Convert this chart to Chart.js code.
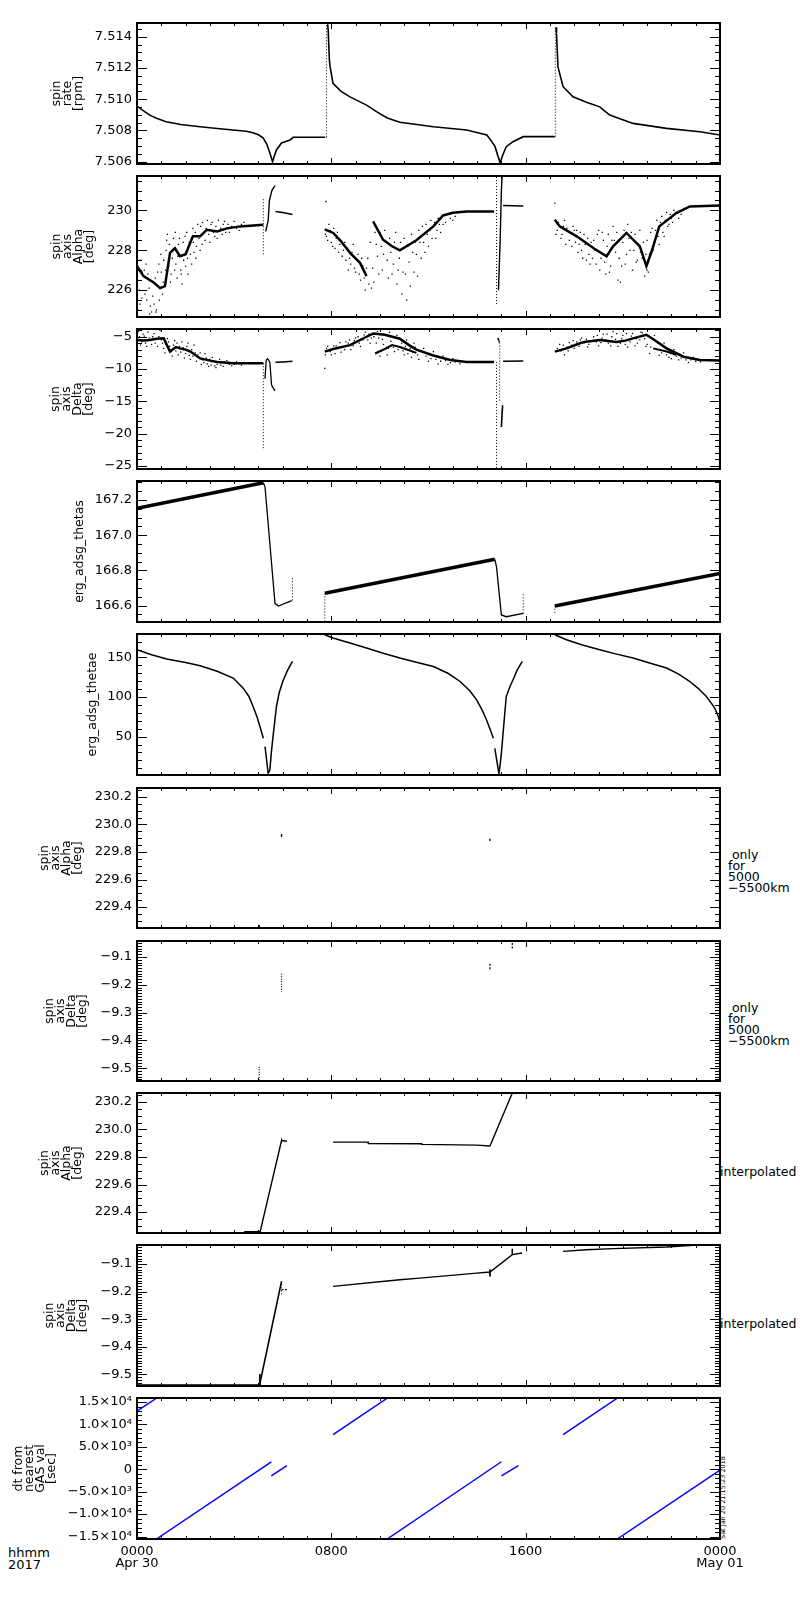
<!DOCTYPE html>
<html>
<head>
<meta charset="utf-8">
<script src="https://cdn.jsdelivr.net/npm/chart.js@4.4.1/dist/chart.umd.min.js"></script>
<style>
  body { margin: 0; background: #fff; width: 800px; height: 1600px; position: relative; font-family: 'DejaVu Sans', sans-serif; color: #000; }
  canvas { position: absolute; left: 0; }
  .note { position: absolute; font-size: 12.5px; line-height: 11px; white-space: pre; }
  .stamp { position: absolute; left: 720px; top: 1539px; font-size: 6.5px; line-height: 7px; white-space: nowrap; transform: rotate(-90deg); transform-origin: 0 0; }
</style>
</head>
<body>
<div class="note" style="left:728px; top:849px"> only
for
5000
−5500km</div>
<div class="note" style="left:728px; top:1002px"> only
for
5000
−5500km</div>
<div class="note" style="left:720px; top:1165px; line-height:14px">interpolated</div>
<div class="note" style="left:720px; top:1317px; line-height:14px">interpolated</div>
<div class="note" style="left:8px; top:1547px; font-size:13px; line-height:12px">hhmm
2017</div>
<div class="stamp">Sat Jan 20 21:15:23 2018</div>
<script>
// time axis (hours from 0000 Apr 30)
const hourTicks = [0, 1, 2, 3, 4, 5, 6, 7, 8, 9, 10, 11, 12, 13, 14, 15, 16, 17, 18, 19, 20, 21, 22, 23, 24];
const xTickHours = [0, 8, 16, 24];
const xTickLabels = [['0000', 'Apr 30'], '0800', '1600', ['0000', 'May 01']];

// tick labels per panel
const rateTicks = [7.506, 7.508, 7.510, 7.512, 7.514];
const rateTickLabels = ['7.506', '7.508', '7.510', '7.512', '7.514'];
const alphaTicks = [226, 228, 230];
const alphaTickLabels = ['226', '228', '230'];
const deltaTicks = [-25, -20, -15, -10, -5];
const deltaTickLabels = ['−25', '−20', '−15', '−10', '−5'];
const thetasTicks = [166.6, 166.8, 167.0, 167.2];
const thetasTickLabels = ['166.6', '166.8', '167.0', '167.2'];
const thetaeTicks = [50, 100, 150];
const thetaeTickLabels = ['50', '100', '150'];
const alphaFineTicks = [229.4, 229.6, 229.8, 230.0, 230.2];
const alphaFineTickLabels = ['229.4', '229.6', '229.8', '230.0', '230.2'];
const deltaFineTicks = [-9.5, -9.4, -9.3, -9.2, -9.1];
const deltaFineTickLabels = ['−9.5', '−9.4', '−9.3', '−9.2', '−9.1'];
const dtTicks = [-15000, -10000, -5000, 0, 5000, 10000, 15000];
const dtTickLabels = ['−1.5×10⁴', '−1.0×10⁴', '−5.0×10³', '0', '5.0×10³', '1.0×10⁴', '1.5×10⁴'];

// spin rate [rpm]
const rateOrbit1 = [[0,7.50956],[0.27,7.50925],[0.53,7.50898],[0.8,7.50878],[1.2,7.50856],[1.8,7.50838],[2.6,7.50824],[3.3,7.50812],[3.95,7.50803],[4.5,7.50795],[4.77,7.50785],[5.0,7.50772],[5.2,7.50751],[5.35,7.5071],[5.47,7.50656],[5.58,7.506],[5.66,7.5064],[5.74,7.50675],[5.95,7.5072],[6.3,7.50739],[6.43,7.50756],[7.75,7.50756]];
const rateOrbit2 = [[7.85,7.5148],[7.87,7.51442],[7.92,7.5125],[7.95,7.51207],[8.07,7.51101],[8.4,7.5105],[8.77,7.51015],[9.45,7.50962],[9.86,7.5092],[10.3,7.5088],[10.82,7.50852],[12.2,7.50824],[13.57,7.50803],[14.4,7.50771],[14.6,7.5073],[14.74,7.50696],[14.85,7.5064],[14.95,7.50594],[15.05,7.5064],[15.2,7.50696],[15.48,7.50728],[15.9,7.5076],[17.2,7.5076]];
const rateOrbit3 = [[17.25,7.5146],[17.27,7.5142],[17.33,7.51207],[17.54,7.5108],[17.95,7.51015],[18.5,7.5098],[19.05,7.50951],[19.46,7.50898],[20.42,7.50845],[21.8,7.50813],[23.17,7.50792],[24,7.50771]];
const rateJump1 = [[7.8,7.50756],[7.8,7.5148]];
const rateJump2 = [[17.22,7.5076],[17.22,7.51463]];

// spin axis Alpha [deg]
const alphaBand1 = [[0,227.2],[0.27,226.7],[0.7,226.37],[0.95,226.1],[1.15,226.2],[1.36,227.87],[1.56,228.1],[1.77,227.7],[2.0,227.8],[2.3,228.7],[2.6,228.7],[2.87,229.03],[3.3,228.95],[3.7,229.1],[4.24,229.2],[5.2,229.28]];
const alphaSpike1Dots = [[5.2,227.8],[5.2,230.6]];
const alphaSpike1 = [[5.3,228.95],[5.4,229.5],[5.45,230.5],[5.55,231.0],[5.68,231.25]];
const alphaFlat1 = [[5.7,229.95],[6.0,229.9],[6.4,229.8]];
const alphaBand2a = [[7.73,229.05],[8.08,228.87],[8.4,228.45],[8.77,227.87],[9.18,227.37],[9.45,226.7]];
const alphaBand2b = [[9.72,229.45],[10.13,228.53],[10.5,228.2],[10.82,228.0],[11.5,228.5],[12.2,229.2],[12.6,229.75],[13.0,229.88],[13.57,229.95],[14.7,229.95]];
const alphaSpike2Dots = [[14.8,225.3],[14.8,231.7]];
const alphaSpike2 = [[14.88,226.0],[14.95,228.5],[15.0,231.0],[15.03,231.7]];
const alphaFlat2 = [[15.07,230.25],[15.9,230.22]];
const alphaBand3 = [[17.2,229.53],[17.4,229.2],[18.1,228.7],[18.8,228.1],[19.33,227.7],[19.6,228.2],[20.15,228.87],[20.7,228.2],[20.97,227.2],[21.2,228.0],[21.5,229.2],[22.2,229.87],[22.76,230.2],[24,230.25]];
const alphaStartDots = [[7.78,230.45],[17.2,230.37]];
const alphaCloud1 = [[0.05,225.0],[0.1,226.0],[0.15,227.5],[0.2,225.6],[0.3,227.0],[0.4,225.5],[0.45,226.8],[0.55,225.2],[0.6,224.9],[0.7,225.3],[0.8,225.0],[0.85,226.9],[0.9,227.3],[1.0,226.9],[1.05,225.8],[1.1,227.5],[1.2,228.0],[1.25,228.8],[1.3,227.2],[1.4,226.8],[1.5,228.6],[1.6,227.3],[1.65,226.6],[1.7,228.3],[1.8,227.0],[1.85,226.3],[1.9,228.4],[2.0,227.2],[2.05,228.9],[2.1,226.8],[2.2,227.8],[2.3,229.1],[2.35,227.9],[2.45,228.2],[2.5,229.3],[2.6,228.0],[2.7,229.4],[2.8,228.5],[2.9,229.5],[3.0,228.4],[3.1,229.4],[3.2,228.7],[3.35,229.5],[3.5,228.8],[3.6,229.45],[3.8,228.9],[4.0,229.45],[4.2,229.0],[4.4,229.4],
  [0.02,226.5],[0.12,225.3],[0.22,226.9],[0.33,225.8],[0.38,227.3],[0.5,226.1],[0.52,224.8],[0.65,225.7],[0.75,226.6],[0.78,224.9],[0.92,225.5],[0.98,227.8],[1.08,226.4],[1.18,227.0],[1.22,228.5],[1.33,228.3],[1.38,226.4],[1.45,227.6],[1.55,227.0],[1.58,228.9],[1.68,227.7],[1.75,228.6],[1.82,226.8],[1.92,227.5],[1.98,228.7],[2.08,227.6],[2.15,228.4],[2.25,227.3],[2.32,228.4],[2.4,228.9],[2.42,227.6],[2.55,228.6],[2.62,229.2],[2.68,228.3],[2.75,228.9],[2.85,229.1],[2.95,228.8],[3.05,229.3],[3.15,228.9],[3.25,229.2],[3.3,228.6],[3.45,229.1],[3.55,229.3],[3.65,228.9],[3.75,229.3],[3.9,229.2],[4.1,229.1],[4.3,229.3]];
const alphaCloud2 = [[7.8,228.7],[7.9,229.3],[8.0,228.4],[8.2,228.6],[8.3,227.9],[8.5,228.0],[8.6,227.5],[8.8,227.3],[8.9,228.3],[9.0,226.9],[9.1,227.8],[9.2,226.5],[9.3,227.2],[9.4,226.0],[9.5,227.6],[9.55,226.3],[9.6,228.4],[9.65,226.1],[9.8,228.9],[9.9,227.7],[10.0,228.9],[10.1,227.0],[10.2,229.0],[10.3,227.5],[10.4,228.6],[10.5,226.8],[10.6,228.4],[10.7,226.3],[10.8,227.6],[10.9,225.8],[11.0,228.6],[11.05,226.8],[11.1,225.5],[11.2,227.4],[11.3,228.8],[11.4,226.9],[11.5,227.8],[11.6,229.0],[11.7,227.6],[11.8,228.4],[11.9,229.3],[12.0,228.2],[12.1,229.5],[12.3,228.6],[12.4,229.6],[12.5,228.9],[12.7,229.4],[12.9,229.6],[13.1,229.7],
  [7.75,228.8],[7.85,228.5],[7.95,229.0],[8.05,228.2],[8.1,229.1],[8.15,228.1],[8.25,228.9],[8.35,228.3],[8.45,227.7],[8.55,228.4],[8.65,228.1],[8.7,227.0],[8.75,227.6],[8.85,227.9],[8.95,227.1],[9.05,227.5],[9.15,226.8],[9.25,227.6],[9.35,226.6],[9.45,227.1],[9.7,227.1],[9.75,226.4],[9.85,228.3],[9.95,226.8],[10.05,228.2],[10.15,227.8],[10.25,228.4],[10.35,226.6],[10.45,227.9],[10.55,227.3],[10.65,228.9],[10.75,227.0],[10.85,228.4],[10.95,226.9],[11.15,228.2],[11.25,226.2],[11.35,227.9],[11.45,228.4],[11.55,226.7],[11.65,228.4],[11.75,229.2],[11.85,227.9],[11.95,228.8],[12.05,229.0],[12.15,228.6],[12.25,229.4],[12.35,229.0],[12.45,229.3],[12.6,229.3],[12.8,229.8],[13.0,229.5],[13.2,229.9]];
const alphaCloud3 = [[17.3,229.0],[17.5,228.8],[17.6,229.5],[17.8,228.5],[18.0,229.0],[18.2,228.3],[18.4,228.8],[18.6,227.8],[18.8,228.5],[18.9,227.3],[19.0,229.0],[19.1,227.6],[19.2,228.5],[19.3,226.8],[19.4,228.8],[19.5,227.2],[19.6,229.2],[19.7,227.9],[19.8,226.5],[19.9,226.4],[20.0,228.4],[20.1,227.3],[20.2,229.3],[20.3,228.0],[20.4,227.0],[20.5,228.8],[20.6,227.5],[20.7,229.0],[20.8,227.6],[20.9,226.7],[21.0,228.5],[21.05,226.9],[21.1,227.8],[21.2,229.1],[21.3,228.4],[21.4,229.5],[21.5,228.3],[21.6,229.7],[21.7,228.7],[21.8,229.9],[21.9,229.3],[22.0,229.6],[22.1,230.0],[22.3,229.6],[22.5,230.1],
  [17.25,228.8],[17.35,229.4],[17.45,228.6],[17.55,229.2],[17.65,228.3],[17.7,229.1],[17.85,228.9],[17.9,228.2],[17.95,229.2],[18.05,228.4],[18.1,229.0],[18.15,227.9],[18.25,228.9],[18.3,228.0],[18.35,227.6],[18.45,228.3],[18.5,227.5],[18.55,228.6],[18.65,227.3],[18.7,228.4],[18.75,227.6],[18.85,228.0],[18.95,228.8],[19.05,227.0],[19.15,228.9],[19.25,227.4],[19.35,228.2],[19.45,226.9],[19.55,228.5],[19.65,228.5],[19.75,228.9],[19.85,227.6],[19.95,227.2],[20.05,229.0],[20.15,227.8],[20.25,228.6],[20.35,228.9],[20.45,228.0],[20.55,227.4],[20.65,228.3],[20.75,227.9],[20.85,228.4],[20.95,227.8],[21.0,227.0],[21.15,228.9],[21.25,228.0],[21.35,229.0],[21.45,228.7],[21.55,229.4],[21.65,228.9],[21.75,229.5],[21.85,229.2],[21.95,229.8],[22.05,229.4],[22.2,229.9],[22.4,229.8]];

// spin axis Delta [deg]
const deltaBand1 = [[0,-5.5],[0.3,-5.6],[0.54,-5.5],[0.8,-5.3],[1.1,-5.25],[1.36,-7.3],[1.6,-6.6],[1.77,-6.8],[2.0,-7.0],[2.2,-7.3],[2.6,-8.36],[3.0,-8.7],[3.3,-8.9],[3.96,-9.1],[5.2,-9.1]];
const deltaSpike1Dots = [[5.2,-9.1],[5.2,-22.6]];
const deltaSpike1 = [[5.27,-11.5],[5.32,-8.6],[5.38,-8.4],[5.47,-9.0],[5.54,-12.5],[5.6,-12.9],[5.68,-13.4]];
const deltaFlat1 = [[5.7,-8.95],[6.0,-8.9],[6.4,-8.8]];
const deltaBand2a = [[7.73,-7.3],[8.08,-6.9],[8.77,-6.3],[9.45,-5.0],[9.72,-4.5],[10.2,-4.7],[10.82,-5.3],[11.2,-6.3],[11.5,-7.0],[12.2,-7.9],[12.9,-8.6],[13.57,-8.9],[14.7,-8.9]];
const deltaBand2b = [[9.8,-7.6],[10.2,-6.9],[10.5,-6.3],[10.82,-6.6],[11.2,-7.1],[11.5,-7.5]];
const deltaSpike2Dots = [[14.8,-8.9],[14.8,-25.4]];
const deltaSpike2 = [[14.83,-5.4],[14.88,-5.3],[14.92,-5.9]];
const deltaSpike2Dots2 = [[14.93,-5.9],[14.93,-15.0]];
const deltaSpike2b = [[15.0,-19.0],[15.05,-15.6]];
const deltaFlat2 = [[15.07,-8.8],[15.9,-8.75]];
const deltaBand3a = [[17.2,-7.3],[17.68,-6.8],[18.1,-6.2],[18.4,-5.8],[19.05,-5.5],[19.74,-5.8],[20.1,-5.6],[20.42,-5.25],[20.97,-4.7],[21.3,-5.5],[21.8,-6.8],[22.5,-8.1],[23.17,-8.6],[24,-8.7]];
const deltaBand3b = [[21.25,-6.8],[21.8,-7.3],[22.2,-7.8]];
const deltaStartDots = [[7.73,-9.9]];
const deltaCloud1 = [[0.05,-4.2],[0.15,-6.3],[0.25,-4.6],[0.35,-6.0],[0.45,-4.3],[0.6,-6.2],[0.7,-4.5],[0.85,-6.5],[0.95,-4.0],[1.05,-6.0],[1.15,-7.5],[1.3,-5.8],[1.45,-8.0],[1.55,-5.6],[1.7,-7.8],[1.85,-5.8],[1.95,-8.3],[2.05,-6.5],[2.2,-8.5],[2.35,-6.3],[2.5,-7.8],[2.65,-9.3],[2.8,-7.6],[2.95,-9.6],[3.1,-8.2],[3.25,-9.8],[3.4,-8.5],[3.55,-9.6],[3.7,-8.7],[3.9,-9.5],[4.1,-8.9],[4.3,-9.4],
  [0.1,-5.0],[0.2,-5.8],[0.3,-4.9],[0.4,-6.5],[0.5,-5.2],[0.65,-5.0],[0.75,-6.0],[0.9,-5.0],[1.0,-5.5],[1.1,-6.8],[1.2,-6.2],[1.25,-5.3],[1.35,-6.5],[1.4,-7.0],[1.5,-6.3],[1.6,-7.2],[1.65,-6.0],[1.75,-6.5],[1.8,-7.4],[1.9,-6.7],[2.0,-7.6],[2.1,-6.0],[2.15,-7.9],[2.25,-7.0],[2.3,-8.0],[2.4,-7.5],[2.45,-8.8],[2.55,-8.2],[2.6,-7.5],[2.7,-8.6],[2.75,-9.0],[2.85,-8.3],[2.9,-9.2],[3.0,-8.5],[3.05,-9.4],[3.15,-8.8],[3.2,-9.5],[3.3,-9.3],[3.45,-9.4],[3.6,-8.9],[3.8,-9.3],[4.0,-9.3],[4.2,-9.2]];
const deltaCloud2 = [[7.8,-6.8],[8.0,-7.8],[8.2,-6.4],[8.4,-7.4],[8.6,-5.8],[8.8,-7.0],[9.0,-5.2],[9.2,-6.5],[9.4,-4.3],[9.6,-6.0],[9.9,-4.2],[10.0,-8.0],[10.1,-5.4],[10.3,-7.8],[10.4,-4.3],[10.6,-7.3],[10.7,-4.8],[10.9,-6.0],[11.0,-7.8],[11.1,-5.5],[11.3,-8.2],[11.4,-6.0],[11.6,-8.5],[11.8,-6.8],[12.0,-8.8],[12.2,-7.3],[12.4,-9.2],[12.6,-8.0],[12.8,-9.3],[13.0,-8.4],[13.3,-9.2],
  [7.75,-7.8],[7.85,-6.5],[7.95,-7.3],[8.1,-6.4],[8.15,-7.6],[8.3,-6.7],[8.35,-5.9],[8.5,-6.6],[8.55,-7.0],[8.7,-6.0],[8.75,-5.5],[8.9,-6.4],[8.95,-5.6],[9.1,-5.0],[9.15,-6.0],[9.3,-5.5],[9.35,-4.7],[9.5,-5.5],[9.55,-4.6],[9.65,-5.2],[9.75,-5.0],[9.85,-6.0],[9.95,-5.2],[10.05,-7.2],[10.15,-6.2],[10.25,-4.8],[10.35,-6.8],[10.45,-5.7],[10.55,-6.6],[10.65,-5.2],[10.75,-7.0],[10.85,-5.5],[10.95,-7.2],[11.05,-6.5],[11.15,-7.6],[11.25,-6.8],[11.35,-7.4],[11.45,-6.6],[11.55,-7.8],[11.7,-7.2],[11.9,-8.0],[12.1,-8.4],[12.3,-8.5],[12.5,-8.8],[12.7,-8.7],[12.9,-9.0],[13.1,-8.9]];
const deltaCloud3 = [[17.4,-6.2],[17.6,-7.8],[17.8,-5.9],[18.0,-6.8],[18.3,-5.2],[18.6,-6.2],[18.8,-5.0],[19.0,-6.4],[19.2,-4.6],[19.4,-6.0],[19.6,-4.2],[19.8,-6.5],[20.0,-4.8],[20.2,-6.6],[20.4,-4.5],[20.6,-6.0],[20.8,-4.4],[21.0,-6.2],[21.1,-7.6],[21.3,-4.8],[21.5,-7.9],[21.7,-6.0],[21.9,-8.2],[22.1,-7.0],[22.3,-8.6],[22.5,-7.5],[22.7,-9.0],[22.9,-8.2],[23.2,-8.9],
  [17.3,-6.8],[17.45,-7.2],[17.55,-6.3],[17.7,-6.6],[17.75,-7.2],[17.9,-6.3],[17.95,-5.6],[18.1,-5.8],[18.2,-6.5],[18.25,-5.5],[18.4,-6.0],[18.5,-5.4],[18.55,-6.6],[18.7,-5.6],[18.9,-5.8],[18.95,-4.8],[19.1,-5.9],[19.15,-5.2],[19.3,-5.5],[19.35,-4.6],[19.5,-6.4],[19.55,-5.0],[19.7,-5.4],[19.75,-4.5],[19.9,-6.0],[19.95,-5.3],[20.1,-6.2],[20.15,-4.5],[20.3,-5.8],[20.35,-4.9],[20.5,-6.4],[20.55,-5.3],[20.7,-5.5],[20.75,-4.3],[20.9,-5.3],[20.95,-6.5],[21.15,-6.6],[21.2,-5.2],[21.4,-7.0],[21.45,-6.0],[21.6,-7.5],[21.65,-6.5],[21.8,-7.8],[21.95,-7.2],[22.0,-8.4],[22.2,-8.0],[22.4,-8.3],[22.6,-8.6],[22.8,-8.6],[23.0,-8.8]];

// erg_adsg_thetas
const thetasOrbit1 = [[0,167.153],[5.2,167.298]];
const thetasDrop1 = [[5.2,167.298],[5.27,167.275],[5.68,166.613],[5.82,166.598],[6.37,166.628]];
const thetasDots1 = [[6.4,166.63],[6.4,166.755]];
const thetasOrbit2 = [[7.73,166.67],[14.73,166.863]];
const thetasDrop2 = [[14.73,166.863],[14.8,166.82],[15.0,166.547],[15.2,166.537],[15.9,166.556]];
const thetasDots2a = [[7.73,166.51],[7.73,166.67]];
const thetasDots2b = [[15.9,166.556],[15.9,166.67]];
const thetasOrbit3 = [[17.2,166.598],[24,166.783]];
const thetasDots3 = [[17.2,166.56],[17.2,166.598]];

// erg_adsg_thetae
const thetaeOrbit1a = [[0,159.7],[0.6,153.5],[1.22,148],[2.0,143.5],[2.6,139.5],[3.3,132.5],[3.96,124],[4.37,111.2],[4.6,101],[4.78,88],[4.95,74],[5.06,62.7],[5.2,48]];
const thetaeOrbit1b = [[5.27,37.3],[5.33,22],[5.4,3.7],[5.47,7.8],[5.53,30],[5.6,50],[5.74,88],[5.85,105],[6.0,119.6],[6.2,134],[6.4,145]];
const thetaeOrbit2a = [[7.73,178.7],[8.07,174.5],[8.8,168],[9.45,161.9],[10.1,155.5],[10.82,149.2],[11.5,144],[12.2,138.6],[12.8,130],[13.3,119.6],[13.7,108],[13.98,96.5],[14.2,84],[14.39,71],[14.55,58],[14.67,48]];
const thetaeOrbit2b = [[14.73,35],[14.82,18],[14.9,2.8],[14.95,15],[15.0,29],[15.1,65],[15.2,100.6],[15.35,113],[15.48,121.8],[15.65,134],[15.86,145]];
const thetaeOrbit3 = [[17.2,178.7],[17.68,172.4],[18.3,166],[19.05,159.7],[19.7,154.5],[20.42,149.2],[21.1,143],[21.8,136.6],[22.3,129],[22.76,119.6],[23.1,111],[23.44,100.6],[23.65,92],[23.78,86],[23.9,78],[24,69]];

// spin axis Alpha/Delta only for 5000-5500 km
const alphaOnly1 = [[5.03,229.25],[5.03,229.27]];
const alphaOnly2 = [[5.95,229.91],[5.95,229.93]];
const alphaOnly3 = [[14.53,229.88],[14.53,229.896]];
const alphaOnly4 = [[15.45,230.25],[15.45,230.265]];
const deltaOnly1 = [[5.03,-9.494],[5.03,-9.545]];
const deltaOnly2 = [[5.95,-9.16],[5.95,-9.225]];
const deltaOnly3 = [[14.53,-9.124],[14.53,-9.15]];
const deltaOnly4 = [[15.45,-9.05],[15.45,-9.074]];

// spin axis Alpha/Delta interpolated
const alphaInterp1 = [[0.8,229.251],[4.44,229.251],[4.44,229.257],[5.06,229.257],[5.06,229.25],[5.95,229.92],[6.17,229.915]];
const alphaInterp2 = [[8.07,229.908],[9.52,229.908],[9.52,229.898],[11.72,229.896],[11.72,229.892],[13.98,229.886],[14.53,229.88],[15.45,230.265]];
const alphaInterpTick = [[5.95,229.905],[5.95,229.935]];
const deltaInterp1 = [[0,-9.539],[5.06,-9.539],[5.06,-9.533],[5.95,-9.163]];
const deltaInterp1b = [[5.95,-9.193],[6.17,-9.193]];
const deltaInterpTick1 = [[5.06,-9.5],[5.06,-9.539]];
const deltaInterpTick1b = [[5.95,-9.163],[5.95,-9.21]];
const deltaInterp2 = [[8.07,-9.181],[10.82,-9.157],[11.64,-9.151],[13.98,-9.133],[14.53,-9.129],[15.45,-9.066],[15.85,-9.06]];
const deltaInterpTick2 = [[14.53,-9.12],[14.53,-9.145]];
const deltaInterpTick3 = [[15.45,-9.045],[15.45,-9.066]];
const deltaInterp3 = [[17.54,-9.054],[18.5,-9.048],[19.6,-9.044],[21.8,-9.038],[22.9,-9.032],[24,-9.032]];

// dt from nearest GAS val [sec]
const dtSegA = [[0,12960],[0.8,15850]];
const dtSegB = [[0.8,-15550],[5.53,1680]];
const dtSegC = [[5.53,-1480],[6.17,800]];
const dtSegD = [[8.07,7740],[10.3,15850]];
const dtSegE = [[10.3,-15550],[15.0,1680]];
const dtSegF = [[15.0,-1480],[15.7,800]];
const dtSegG = [[17.54,7740],[19.77,15850]];
const dtSegH = [[19.77,-15550],[24,-160]];

const fontFamily = "'DejaVu Sans', sans-serif";
const BLUE = '#0000ff';

function pts(pairs) {
  return pairs.map(p => ({ x: p[0], y: p[1] }));
}
function line(pairs, width, color, dash) {
  return { data: pts(pairs), showLine: true, borderColor: color || '#000', borderWidth: width || 1.2,
           borderDash: dash || [], pointRadius: 0, fill: false, tension: 0 };
}
function dots(pairs, r) {
  return { data: pts(pairs), showLine: false, pointRadius: r || 0.9, pointStyle: 'rect',
           pointBackgroundColor: '#000', pointBorderWidth: 0, borderColor: '#000' };
}
const dotted = [1, 2];

const panels = [
  { top: 23, bottom: 164, min: 7.50585, max: 7.51488, ticks: rateTicks, labels: rateTickLabels, minor: 0.0005,
    title: ['spin', 'rate', '[rpm]'], titleX: 57,
    datasets: [line(rateOrbit1, 1.6), line(rateOrbit2, 1.6), line(rateOrbit3, 1.6),
               line(rateJump1, 1, '#000', dotted), line(rateJump2, 1, '#000', dotted)] },
  { top: 176, bottom: 317, min: 224.65, max: 231.73, ticks: alphaTicks, labels: alphaTickLabels, minor: 0.5,
    title: ['spin', 'axis', 'Alpha', '[deg]'], titleX: 57,
    datasets: [dots(alphaCloud1), dots(alphaCloud2), dots(alphaCloud3), dots(alphaStartDots),
               line(alphaBand1, 2.5), line(alphaBand2a, 2.5), line(alphaBand2b, 2.5), line(alphaBand3, 2.5),
               line(alphaSpike1Dots, 1, '#000', dotted), line(alphaSpike1, 1.4), line(alphaFlat1, 1.6),
               line(alphaSpike2Dots, 1, '#000', dotted), line(alphaSpike2, 1.4), line(alphaFlat2, 1.6)] },
  { top: 329, bottom: 469, min: -25.5, max: -3.8, ticks: deltaTicks, labels: deltaTickLabels, minor: 1,
    title: ['spin', 'axis', 'Delta', '[deg]'], titleX: 56,
    datasets: [dots(deltaCloud1), dots(deltaCloud2), dots(deltaCloud3), dots(deltaStartDots),
               line(deltaBand1, 2.5), line(deltaBand2a, 2.5), line(deltaBand2b, 2), line(deltaBand3a, 2.5), line(deltaBand3b, 2),
               line(deltaSpike1Dots, 1, '#000', dotted), line(deltaSpike1, 1.3), line(deltaFlat1, 1.5),
               line(deltaSpike2Dots, 1, '#000', dotted), line(deltaSpike2, 1.3), line(deltaSpike2Dots2, 1, '#000', dotted),
               line(deltaSpike2b, 1.6), line(deltaFlat2, 1.5)] },
  { top: 481, bottom: 622, min: 166.507, max: 167.308, ticks: thetasTicks, labels: thetasTickLabels, minor: 0.05,
    title: 'erg_adsg_thetas', titleX: 80,
    datasets: [line(thetasOrbit1, 3.5), line(thetasDrop1, 1.3), line(thetasDots1, 1, '#000', dotted),
               line(thetasOrbit2, 3.5), line(thetasDrop2, 1.3), line(thetasDots2a, 1, '#000', dotted), line(thetasDots2b, 1, '#000', dotted),
               line(thetasOrbit3, 3.5), line(thetasDots3, 1, '#000', dotted)] },
  { top: 634, bottom: 775, min: 1.5, max: 179.6, ticks: thetaeTicks, labels: thetaeTickLabels, minor: 10,
    title: 'erg_adsg_thetae', titleX: 93,
    datasets: [line(thetaeOrbit1a, 1.5), line(thetaeOrbit1b, 1.5), line(thetaeOrbit2a, 1.5),
               line(thetaeOrbit2b, 1.5), line(thetaeOrbit3, 1.5)] },
  { top: 788, bottom: 928, min: 229.248, max: 230.265, ticks: alphaFineTicks, labels: alphaFineTickLabels, minor: 0.05,
    title: ['spin', 'axis', 'Alpha', '[deg]'], titleX: 45,
    datasets: [line(alphaOnly1, 1.4), line(alphaOnly2, 1.4), line(alphaOnly3, 1.4), line(alphaOnly4, 1.4)] },
  { top: 941, bottom: 1081, min: -9.5455, max: -9.0427, ticks: deltaFineTicks, labels: deltaFineTickLabels, minor: 0.01,
    title: ['spin', 'axis', 'Delta', '[deg]'], titleX: 50,
    datasets: [line(deltaOnly1, 1.2, '#000', [1, 1.5]), line(deltaOnly2, 1.2, '#000', [1, 1.5]),
               line(deltaOnly3, 1.2, '#000', [2, 1.5]), line(deltaOnly4, 1.2, '#000', [2, 1.5])] },
  { top: 1093, bottom: 1233, min: 229.248, max: 230.265, ticks: alphaFineTicks, labels: alphaFineTickLabels, minor: 0.05,
    title: ['spin', 'axis', 'Alpha', '[deg]'], titleX: 45,
    datasets: [line(alphaInterp1, 1.4), line(alphaInterp2, 1.4), line(alphaInterpTick, 1)] },
  { top: 1245, bottom: 1386, min: -9.5425, max: -9.031, ticks: deltaFineTicks, labels: deltaFineTickLabels, minor: 0.01,
    title: ['spin', 'axis', 'Delta', '[deg]'], titleX: 50,
    datasets: [line(deltaInterp1, 1.6), line(deltaInterp1b, 1.2, '#000', [2, 1.5]), line(deltaInterpTick1, 1),
               line(deltaInterpTick1b, 1, '#000', dotted), line(deltaInterp2, 1.4), line(deltaInterpTick2, 1),
               line(deltaInterpTick3, 1), line(deltaInterp3, 1.4)] },
  { top: 1398, bottom: 1539, min: -15550, max: 15900, ticks: dtTicks, labels: dtTickLabels, minor: 1000,
    title: ['dt from', 'nearest', 'GAS val', '[sec]'], titleX: 19,
    datasets: [line(dtSegA, 1.5, BLUE), line(dtSegB, 1.5, BLUE), line(dtSegC, 1.5, BLUE), line(dtSegD, 1.5, BLUE),
               line(dtSegE, 1.5, BLUE), line(dtSegF, 1.5, BLUE), line(dtSegG, 1.5, BLUE), line(dtSegH, 1.5, BLUE)] }
];

function minorTicks(min, max, step) {
  const out = [];
  for (let k = Math.ceil(min / step - 1e-6); k * step <= max + step * 1e-6; k++) {
    out.push({ value: +(k * step).toFixed(6) });
  }
  return out;
}

function labelFor(p, value) {
  const i = p.ticks.findIndex(m => Math.abs(m - value) < p.minor / 10);
  return i >= 0 ? p.labels[i] : '';
}

// IDL-style frame: box plus inward ticks on all four sides
const idlFrame = {
  id: 'idlFrame',
  afterDraw(chart) {
    const { ctx, chartArea: a, scales } = chart;
    const xs = scales.x, ys = scales.y;
    ctx.save();
    ctx.strokeStyle = '#000';
    ctx.lineWidth = 1;
    ctx.beginPath();
    hourTicks.forEach(h => {
      const px = Math.round(xs.getPixelForValue(h)) + 0.5;
      const len = h % 8 === 0 ? 6 : 3;
      ctx.moveTo(px, a.top); ctx.lineTo(px, a.top + len);
      ctx.moveTo(px, a.bottom); ctx.lineTo(px, a.bottom - len);
    });
    ys.ticks.forEach(t => {
      const py = Math.round(ys.getPixelForValue(t.value)) + 0.5;
      const len = t.label ? 10 : 5;
      ctx.moveTo(a.left, py); ctx.lineTo(a.left + len, py);
      ctx.moveTo(a.right, py); ctx.lineTo(a.right - len, py);
    });
    ctx.stroke();
    ctx.lineWidth = 2;
    ctx.strokeRect(a.left, a.top, a.right - a.left, a.bottom - a.top);
    ctx.restore();
  }
};

panels.forEach((p, i) => {
  const last = i === panels.length - 1;
  const padTop = 16, padBottom = last ? 0 : 16, xAxisH = last ? 40 : 0;
  const h = (p.bottom - p.top) + padTop + padBottom + xAxisH;
  const canvas = document.createElement('canvas');
  canvas.width = 800;
  canvas.height = h;
  canvas.style.top = (p.top - padTop) + 'px';
  canvas.style.width = '800px';
  canvas.style.height = h + 'px';
  document.body.appendChild(canvas);

  new Chart(canvas, {
    type: 'scatter',
    data: { datasets: p.datasets },
    options: {
      responsive: false,
      animation: false,
      devicePixelRatio: 1,
      layout: { padding: { left: 0, right: 80, top: padTop, bottom: padBottom } },
      plugins: { legend: { display: false }, tooltip: { enabled: false } },
      scales: {
        x: {
          type: 'linear', min: 0, max: 24, display: last,
          afterBuildTicks: s => { s.ticks = hourTicks.map(v => ({ value: v })); },
          afterFit: s => { s.height = xAxisH; },
          grid: { display: false, drawTicks: false },
          border: { display: false },
          ticks: {
            autoSkip: false, maxRotation: 0, minRotation: 0, padding: 7, color: '#000',
            font: { family: fontFamily, size: 13, lineHeight: '12px' },
            callback: v => {
              const k = xTickHours.indexOf(v);
              return k >= 0 ? xTickLabels[k] : '';
            }
          }
        },
        y: {
          type: 'linear', min: p.min, max: p.max,
          afterBuildTicks: s => { s.ticks = minorTicks(p.min, p.max, p.minor); },
          afterFit: s => { s.width = 137; },
          grid: { display: false, drawTicks: false },
          border: { display: false },
          ticks: {
            autoSkip: false, padding: 5, color: '#000',
            font: { family: fontFamily, size: 13, lineHeight: 1 },
            callback: v => labelFor(p, v)
          },
          title: {
            display: true, text: p.title, color: '#000',
            font: { family: fontFamily, size: 12.5, lineHeight: '11px' },
            padding: { top: p.titleX - 5.5, bottom: 0 }
          }
        }
      }
    },
    plugins: [idlFrame]
  });
});
</script>
</body>
</html>
